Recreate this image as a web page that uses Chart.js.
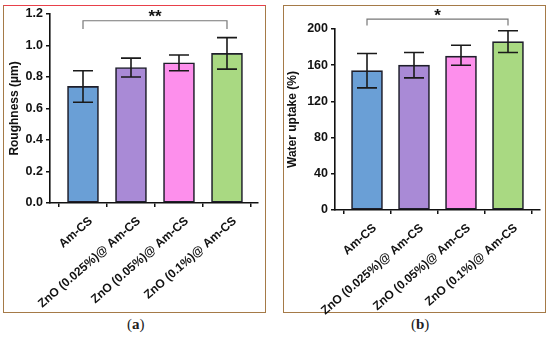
<!DOCTYPE html>
<html><head><meta charset="utf-8">
<script src="https://cdn.jsdelivr.net/npm/chart.js@4.4.0/dist/chart.umd.min.js"></script>
<style>
html,body{margin:0;padding:0;background:#fff;width:550px;height:338px;overflow:hidden;}
.box{position:absolute;border:1.5px solid #a57a48;box-sizing:border-box;}
#boxA{left:3px;top:5px;width:263px;height:308px;border-top-color:#e8404a;}
#boxB{left:283px;top:5px;width:263px;height:308px;}
canvas{position:absolute;}
.cap{position:absolute;top:316px;font-family:"Liberation Serif","Times New Roman",serif;font-size:15px;color:#222;}
</style></head>
<body>
<div class="box" id="boxA"></div>
<div class="box" id="boxB"></div>
<canvas id="cA" width="275" height="315" style="left:0;top:0"></canvas>
<canvas id="cB" width="275" height="315" style="left:275px;top:0"></canvas>
<div class="cap" style="left:127px">(<b>a</b>)</div>
<div class="cap" style="left:411px">(<b>b</b>)</div>
<script>
const categories = ["Am-CS", "ZnO (0.025%)@ Am-CS", "ZnO (0.05%)@ Am-CS", "ZnO (0.1%)@ Am-CS"];
const colors = ["#6a9fd6", "#a98ad6", "#fd8fec", "#a9d982"];

const roughness = [0.74, 0.86, 0.89, 0.95];
const roughnessLow = [0.64, 0.80, 0.84, 0.85];
const roughnessHigh = [0.84, 0.92, 0.94, 1.05];
const roughnessTicks = [0, 0.2, 0.4, 0.6, 0.8, 1.0, 1.2];

const uptake = [154, 160, 170, 186];
const uptakeLow = [135, 146, 160, 174];
const uptakeHigh = [173, 174, 182, 198];
const uptakeTicks = [0, 40, 80, 120, 160, 200];

const FONT = "'Liberation Sans', Arial, sans-serif";

function makeChart(id, values, low, high, ticks, yTitle, yMax, decimals, xMin, xMax, yWidth, pad, titlePad, bracket) {
  const errPlugin = {
    id: 'err' + id,
    afterDatasetsDraw(chart) {
      const ctx = chart.ctx, xs = chart.scales.x, ys = chart.scales.y;
      ctx.save();
      ctx.strokeStyle = '#1a1a1a';
      ctx.lineWidth = 1.6;
      values.forEach((v, i) => {
        const x = xs.getPixelForValue(i);
        const yl = ys.getPixelForValue(low[i]);
        const yh = ys.getPixelForValue(high[i]);
        ctx.beginPath();
        ctx.moveTo(x, yl); ctx.lineTo(x, yh);
        ctx.moveTo(x - 10, yl); ctx.lineTo(x + 10, yl);
        ctx.moveTo(x - 10, yh); ctx.lineTo(x + 10, yh);
        ctx.stroke();
      });
      const x1 = xs.getPixelForValue(bracket.from), x2 = xs.getPixelForValue(bracket.to);
      const yb = ys.getPixelForValue(bracket.level), ye = ys.getPixelForValue(bracket.end);
      ctx.strokeStyle = '#777';
      ctx.lineWidth = 1.2;
      ctx.beginPath();
      ctx.moveTo(x1, ye); ctx.lineTo(x1, yb); ctx.lineTo(x2, yb); ctx.lineTo(x2, ye);
      ctx.stroke();
      ctx.fillStyle = '#111';
      ctx.font = 'bold 17px ' + FONT;
      ctx.textAlign = 'center';
      ctx.textBaseline = 'middle';
      ctx.fillText(bracket.label, (x1 + x2) / 2, yb - 3);
      // category labels, rotated
      ctx.font = 'bold 12px ' + FONT;
      ctx.fillStyle = '#111';
      ctx.textAlign = 'right';
      ctx.textBaseline = 'top';
      const yAxis = ys.getPixelForValue(0);
      categories.forEach((c, i) => {
        ctx.save();
        ctx.translate(xs.getPixelForValue(i) + 4, yAxis + 12);
        ctx.rotate(-41 * Math.PI / 180);
        ctx.fillText(c, 0, 0);
        ctx.restore();
      });
      ctx.restore();
    }
  };
  return new Chart(document.getElementById(id), {
    type: 'bar',
    data: {
      datasets: [{
        data: values.map((v, i) => ({x: i, y: v})),
        backgroundColor: colors,
        borderColor: '#1e1e2a',
        borderWidth: 1.6,
        borderSkipped: false,
        barThickness: 31
      }]
    },
    options: {
      responsive: false,
      animation: false,
      events: [],
      layout: {padding: pad},
      plugins: {legend: {display: false}, tooltip: {enabled: false}},
      scales: {
        x: {
          type: 'linear',
          offset: false,
          min: xMin, max: xMax,
          afterBuildTicks: s => { s.ticks = categories.map((c, i) => ({value: i})); },
          afterFit: s => { s.height = 100; },
          grid: {display: true, drawOnChartArea: false, color: '#111', lineWidth: 1.5, tickLength: 4},
          border: {display: true, color: '#111', width: 1.6},
          ticks: {display: false}
        },
        y: {
          min: 0, max: yMax,
          afterBuildTicks: s => { s.ticks = ticks.map(v => ({value: v})); },
          afterFit: s => { s.width = yWidth; },
          grid: {display: true, drawOnChartArea: false, color: '#111', lineWidth: 1.5, tickLength: 4},
          border: {display: true, color: '#111', width: 1.6},
          ticks: {
            padding: 3, color: '#111', font: {family: FONT, size: 12.5, weight: 'bold'},
            callback: v => v.toFixed(decimals)
          },
          title: {display: true, text: yTitle, color: '#111', padding: {top: titlePad, bottom: 0},
                  font: {family: FONT, size: 12, weight: 'bold'}}
        }
      }
    },
    plugins: [errPlugin]
  });
}

makeChart('cA', roughness, roughnessLow, roughnessHigh, roughnessTicks, 'Roughness (µm)', 1.2, 1,
  -0.6875, 3.646, 50, {left: 0, right: 17, top: 14, bottom: 12}, 7,
  {from: 0, to: 3, level: 1.157, end: 1.105, label: '**'});
makeChart('cB', uptake, uptakeLow, uptakeHigh, uptakeTicks, 'Water uptake (%)', 200, 0,
  -0.681, 3.681, 60, {left: 0, right: 10, top: 29, bottom: 5}, 10,
  {from: 0, to: 3, level: 211, end: 204, label: '*'});
</script>
</body></html>
